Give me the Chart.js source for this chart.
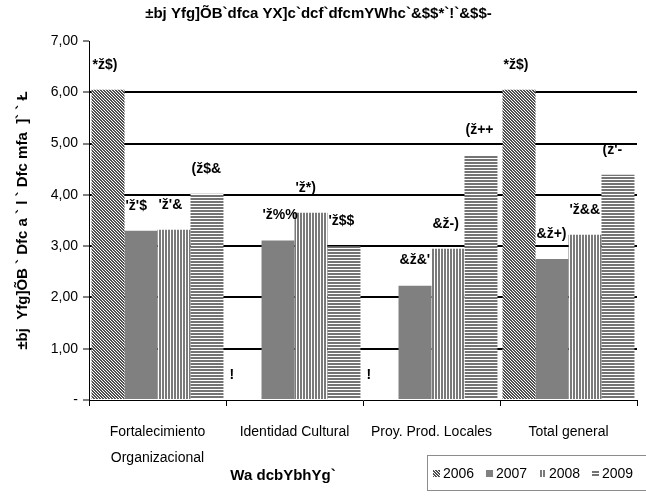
<!DOCTYPE html>
<html><head><meta charset="utf-8">
<script src="https://cdn.jsdelivr.net/npm/chart.js@4/dist/chart.umd.min.js"></script>
<style>html,body{margin:0;padding:0;background:#fff}#wrap{width:646px;height:499px;position:relative}</style>
</head><body><div id="wrap"><canvas id="c" width="646" height="499"></canvas></div>
<script>
// ---- data ----
const categories = [['Fortalecimiento','Organizacional'], 'Identidad Cultural', 'Proy. Prod. Locales', 'Total general'];
const seriesNames = ['2006', '2007', '2008', '2009'];
const v2006 = [6.05, 0, 0, 6.05];
const v2007 = [3.30, 3.11, 2.23, 2.75];
const v2008 = [3.32, 3.65, 2.95, 3.22];
const v2009 = [4.02, 3.00, 4.77, 4.39];
const yTickValues = [0, 1, 2, 3, 4, 5, 6, 7];
const chartTitle = '±bj Yfg]ÕB`dfca YX]c`dcf`dfcmYWhc`&$$*`!`&$$-';
const yTitle = '±bj  Yfg]ÕB ` Dfc a ` l ` Dfc mfa  ]` ` Ł';
const xTitle = 'Wa dcbYbhYg`';

const FAM = '"Liberation Sans", Arial, sans-serif';

// ---- patterns ----
function makePattern(kind){
  const n=3, cv=document.createElement('canvas'); cv.width=n; cv.height=n;
  const g=cv.getContext('2d');
  g.fillStyle='#fff'; g.fillRect(0,0,n,n);
  for(let y=0;y<n;y++) for(let x=0;x<n;x++){
    let dark=false, col='#808080';
    if(kind==='diag'){ dark=((x-y+3)%3)!==0; col='#505050'; }
    else if(kind==='solid'){ dark=true; col='#808080'; }
    else if(kind==='vert'){ dark=(x%3)!==2; col='#7a7a7a'; }
    else if(kind==='horiz'){ dark=(y%3)!==2; col='#747474'; }
    if(dark){ g.fillStyle=col; g.fillRect(x,y,1,1); }
  }
  return g.createPattern(cv,'repeat');
}
const fills = [makePattern('diag'), makePattern('solid'), makePattern('vert'), makePattern('horiz')];

function garble(s){ return Array.from(s).map(ch => ch===',' ? 'ž' : String.fromCharCode(ch.charCodeAt(0)-12)).join(''); }
function labelText(v){ return v===0 ? garble('-') : garble(v.toFixed(2).replace('.', ',')); }

const decor = {
  id:'decor',
  afterDatasetsDraw(chart){
    const ctx=chart.ctx;
    ctx.save();
    ctx.fillStyle='#000';
    ctx.font='bold 14px '+FAM;
    ctx.textAlign='left'; ctx.textBaseline='middle';
    chart.data.datasets.forEach((ds,i)=>{
      const meta=chart.getDatasetMeta(i);
      meta.data.forEach((bar,j)=>{
        const left=bar.x-bar.width/2;
        ctx.fillText(labelText(ds.data[j]), left+1, bar.y-25);
      });
    });
    // x axis title
    ctx.font='bold 15px '+FAM;
    ctx.textAlign='center';
    ctx.fillText(xTitle, 283, 476);
    // legend
    ctx.strokeStyle='#8c8c8c'; ctx.lineWidth=1;
    ctx.strokeRect(427.5, 455.5, 225, 35);
    ctx.font='14px '+FAM; ctx.textAlign='left';
    seriesNames.forEach((nm,i)=>{
      const x=433+i*53;
      ctx.fillStyle=fills[i]; ctx.fillRect(x,470,7,7);
      ctx.fillStyle='#000'; ctx.fillText(nm, x+10, 474);
    });
    ctx.restore();
  }
};

const titleSize=15;
new Chart(document.getElementById('c'), {
  type:'bar',
  data:{
    labels:categories,
    datasets:[v2006,v2007,v2008,v2009].map((d,i)=>({
      label:seriesNames[i], data:d, backgroundColor:fills[i], borderWidth:0,
      categoryPercentage:0.963, barPercentage:1.0
    }))
  },
  options:{
    responsive:false, animation:false, devicePixelRatio:1,
    layout:{padding:{left:0,right:9,top:0,bottom:0}},
    plugins:{
      legend:{display:false}, tooltip:{enabled:false},
      title:{display:true, text:chartTitle, color:'#000',
        font:{family:FAM, size:titleSize, weight:'bold', lineHeight:1.2},
        padding:{top:5, bottom:41-5-titleSize*1.2}}
    },
    scales:{
      x:{
        grid:{display:true, drawOnChartArea:false, drawTicks:true, tickLength:6, offset:true, color:'#000', tickColor:'#000'},
        border:{display:true, color:'#000', width:1},
        ticks:{color:'#000', padding:13, maxRotation:0, autoSkip:false, font:{family:FAM, size:14, lineHeight:26/14}},
        afterFit(s){ s.height=99; }
      },
      y:{
        min:0, max:7,
        afterBuildTicks(s){ s.ticks = yTickValues.map(v=>({value:v})); },
        ticks:{color:'#000', padding:5, font:{family:FAM, size:14},
          callback:(v)=> v===0 ? '-' : Number(v).toFixed(2).replace('.', ',')},
        grid:{color:(c)=> (c.tick && (c.tick.value===0 || c.tick.value===7)) ? 'rgba(0,0,0,0)' : '#000',
          lineWidth:2, tickColor:'#000', tickWidth:1, tickLength:6},
        border:{display:true, color:'#000', width:1},
        title:{display:true, text:yTitle, color:'#000', font:{family:FAM, size:15, weight:'bold', lineHeight:1.2}, padding:{top:14,bottom:0}},
        afterFit(s){ s.width=89; }
      }
    }
  },
  plugins:[decor]
});
</script></body></html>
